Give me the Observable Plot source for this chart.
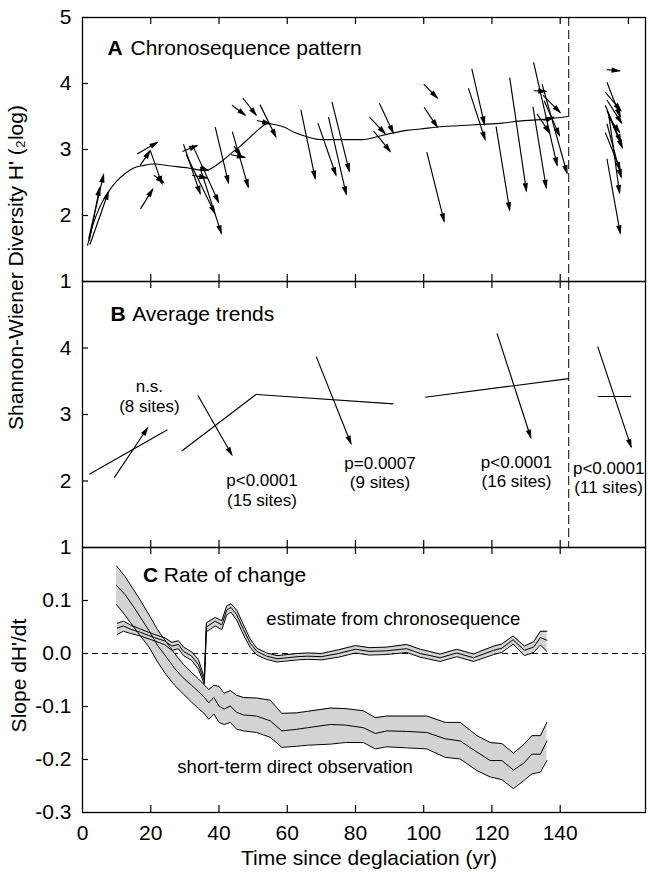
<!DOCTYPE html>
<html><head><meta charset="utf-8">
<script src="https://cdn.jsdelivr.net/npm/d3@7"></script>
<script src="https://cdn.jsdelivr.net/npm/@observablehq/plot@0.6"></script>
<style>
html,body{margin:0;padding:0;background:#fff;}
#chart{width:648px;height:872px;position:relative;overflow:hidden;background:#fff;}
#chart svg{display:block;}
</style></head>
<body><div id="chart"></div>
<script>
// ---------- data ----------
const xTicks = [0, 20, 40, 60, 80, 100, 120, 140];
const xTicksTopA = [20, 40, 60, 80, 100, 120, 140, 160];
const yTicksA = [1, 2, 3, 4, 5];
const yTicksB = [1, 2, 3, 4];
const yTicksC = [-0.3, -0.2, -0.1, 0.0, 0.1];
const unknownAgeLine = [142.5];

// A: chronosequence smooth curve
const curveAge = [1.5, 3, 5, 7.5, 10, 12.6, 15, 18, 21, 26, 31, 36, 38, 41, 44, 46, 49, 52, 54, 57, 59, 62, 66, 70, 76, 82, 86, 90, 95, 99, 104, 110, 117, 123, 128, 136, 142.2];
const curveH = [1.55, 1.85, 2.12, 2.35, 2.52, 2.64, 2.72, 2.76, 2.78, 2.75, 2.72, 2.68, 2.72, 2.83, 2.96, 3.04, 3.18, 3.32, 3.39, 3.37, 3.34, 3.26, 3.19, 3.15, 3.15, 3.15, 3.19, 3.24, 3.29, 3.31, 3.34, 3.36, 3.38, 3.40, 3.43, 3.46, 3.50];

// A: site trajectories [startAge, startH, endAge, endH]
const siteArrows = [
  [1.8, 1.65, 6.2, 2.62], [2.0, 1.62, 5.0, 2.42], [2.2, 1.56, 7.6, 2.36],
  [17.0, 2.10, 20.6, 2.40], [16.0, 2.93, 22.0, 3.11], [16.9, 2.76, 19.8, 2.98],
  [19.9, 2.98, 23.3, 2.48], [20.9, 2.61, 23.8, 2.50],
  [29.3, 2.97, 33.6, 3.06], [29.6, 3.08, 34.5, 2.33], [30.4, 2.92, 38.8, 2.03],
  [32.2, 3.07, 39.9, 2.20], [34.6, 2.70, 40.7, 1.73], [32.1, 2.61, 36.5, 2.57],
  [34.5, 2.73, 36.8, 2.68], [38.9, 3.34, 42.8, 2.49], [43.9, 3.27, 48.6, 2.43],
  [43.5, 2.92, 47.6, 2.88], [44.4, 3.05, 46.5, 2.90], [43.8, 3.67, 47.7, 3.52],
  [47.0, 3.78, 50.9, 3.52], [52.0, 3.68, 56.7, 3.19], [51.1, 3.44, 55.0, 3.39],
  [64.0, 3.60, 68.2, 2.56], [69.0, 3.40, 74.3, 2.61], [72.1, 3.49, 77.3, 2.32],
  [73.1, 3.72, 78.2, 2.67], [84.1, 3.49, 88.7, 3.24], [87.0, 3.70, 91.1, 3.25],
  [85.3, 3.28, 90.2, 2.97],
  [100.0, 3.99, 104.0, 3.78], [100.1, 3.64, 104.0, 3.34], [100.9, 2.96, 106.0, 1.91],
  [114.1, 4.22, 117.8, 3.38], [113.1, 3.93, 118.0, 3.15], [121.2, 3.35, 125.2, 2.08],
  [125.2, 4.09, 130.1, 2.37], [132.0, 3.65, 135.9, 2.42], [132.2, 4.32, 139.1, 2.76],
  [134.7, 3.99, 142.0, 2.64], [132.2, 3.89, 135.9, 3.88], [135.0, 3.82, 140.0, 3.56],
  [133.2, 3.54, 136.9, 3.25], [135.3, 3.74, 139.8, 3.21], [135.1, 3.44, 138.1, 3.49],
  [153.7, 4.21, 157.4, 4.19], [153.7, 4.02, 157.6, 3.50], [153.2, 3.87, 157.8, 3.59],
  [153.2, 3.67, 157.8, 3.11], [153.7, 3.59, 158.2, 3.03], [154.2, 3.49, 157.4, 3.26],
  [153.2, 3.26, 157.6, 2.69], [153.7, 3.39, 157.9, 2.58], [154.2, 3.54, 157.4, 2.34],
  [153.7, 2.86, 157.6, 1.73], [153.7, 3.75, 158.0, 3.40]
];

// B: average trends
const trendLines = [[2.0, 2.10, 24.9, 2.77], [29.1, 2.45, 51.1, 3.31], [51.1, 3.30, 91.1, 3.16], [100.4, 3.26, 142.5, 3.54], [151.0, 3.27, 160.8, 3.27]];
const trendArrows = [[9.3, 2.05, 19.1, 2.80], [33.8, 3.29, 43.8, 2.39], [68.5, 3.87, 78.7, 2.56], [121.5, 4.22, 131.4, 2.65], [151.0, 4.02, 160.8, 2.51]];
const trendLabelText = ["n.s.\n(8 sites)", "p<0.0001\n(15 sites)", "p=0.0007\n(9 sites)", "p<0.0001\n(16 sites)", "p<0.0001\n(11 sites)"];
const trendLabelAge = [19.6, 52.6, 87.2, 127.2, 154.2];
const trendLabelH = [3.55, 2.135, 2.395, 2.41, 2.32];

// C: short-term direct observation (mean and band)
const obsAge = [10, 12.5, 15, 17, 19.5, 22, 24.5, 27, 29.5, 32, 34, 35.5, 37, 38.5, 40, 41.5, 43.3, 45.2, 47.2, 51, 55, 58.4, 62.8, 66, 72.6, 77, 82.3, 85.8, 89.2, 95, 100.9, 106.3, 110.7, 115.6, 119.5, 122.9, 126.3, 129.3, 131.7, 134.2, 136.1];
const obsMid = [0.128, 0.111, 0.088, 0.068, 0.043, 0.015, -0.006, -0.028, -0.046, -0.060, -0.072, -0.081, -0.093, -0.083, -0.099, -0.105, -0.099, -0.111, -0.116, -0.118, -0.127, -0.146, -0.143, -0.140, -0.134, -0.135, -0.140, -0.151, -0.146, -0.147, -0.149, -0.161, -0.165, -0.186, -0.202, -0.202, -0.220, -0.207, -0.190, -0.190, -0.165];
const obsHi = [0.165, 0.145, 0.120, 0.100, 0.073, 0.045, 0.022, 0.000, -0.020, -0.036, -0.048, -0.058, -0.068, -0.060, -0.062, -0.075, -0.070, -0.079, -0.083, -0.084, -0.088, -0.113, -0.112, -0.109, -0.103, -0.104, -0.108, -0.121, -0.118, -0.118, -0.118, -0.130, -0.130, -0.155, -0.168, -0.170, -0.188, -0.172, -0.155, -0.155, -0.130];
const obsLo = [0.092, 0.072, 0.050, 0.033, 0.012, -0.016, -0.040, -0.060, -0.076, -0.092, -0.104, -0.112, -0.124, -0.114, -0.130, -0.134, -0.130, -0.143, -0.146, -0.149, -0.158, -0.177, -0.175, -0.173, -0.171, -0.168, -0.168, -0.180, -0.176, -0.178, -0.180, -0.196, -0.199, -0.221, -0.233, -0.238, -0.255, -0.240, -0.227, -0.224, -0.202];

// C: estimate from chronosequence (mean and band)
const estAge = [10.2, 12, 14, 17, 21, 24, 26.2, 28.1, 29.6, 32, 34, 35.7, 36.3, 38.9, 40.8, 42.3, 43.5, 45.2, 47.2, 49.1, 51.1, 54, 57, 60, 63, 66, 70, 75, 80, 84, 89, 95, 99, 104.8, 109.7, 114.6, 120.5, 122.9, 126.2, 129.5, 132.2, 134.2, 136.1];
const estMid = [0.048, 0.052, 0.046, 0.040, 0.030, 0.024, 0.014, 0.017, 0.004, -0.005, -0.021, -0.052, 0.050, 0.061, 0.054, 0.082, 0.087, 0.073, 0.045, 0.020, 0.004, -0.005, -0.010, -0.008, -0.006, -0.005, -0.006, 0.000, 0.008, 0.004, 0.005, 0.009, 0.000, -0.008, 0.001, -0.008, 0.006, 0.010, 0.026, 0.006, 0.012, 0.030, 0.025];
const estHi = [0.057, 0.061, 0.054, 0.046, 0.036, 0.030, 0.021, 0.024, 0.012, 0.003, -0.012, -0.045, 0.058, 0.068, 0.062, 0.090, 0.094, 0.082, 0.054, 0.028, 0.010, 0.001, -0.004, -0.002, 0.000, 0.001, 0.000, 0.007, 0.015, 0.011, 0.012, 0.017, 0.008, -0.001, 0.008, -0.001, 0.014, 0.018, 0.033, 0.014, 0.022, 0.042, 0.042];
const estLo = [0.036, 0.042, 0.038, 0.033, 0.024, 0.017, 0.006, 0.009, -0.004, -0.013, -0.030, -0.058, 0.041, 0.052, 0.045, 0.073, 0.078, 0.063, 0.035, 0.012, -0.003, -0.011, -0.016, -0.014, -0.012, -0.011, -0.012, -0.007, 0.001, -0.003, -0.002, 0.002, -0.007, -0.015, -0.006, -0.015, -0.002, 0.002, 0.018, -0.004, 0.002, 0.016, 0.004];

const yTitleAB = "Shannon-Wiener Diversity H' (\u2082log)";
const yTitleC = "Slope dH'/dt";
const xTitle = "Time since deglaciation (yr)";

// ---------- layout ----------
const FONT = "'Liberation Sans', Arial, Helvetica, sans-serif";
const W = 648, ML = 82, MR = 3, FW = W - ML - MR;
const XDOMAIN = [0, 165];
const svgStyle = `font-family:${FONT};font-size:21px;overflow:visible;background:transparent;`;
const TICKLEN = 7;

function frameMarks(fh, topTicks, bottomTicks, yTicks) {
  return [
    Plot.tickX(topTicks, {x: d => d, insetBottom: fh - TICKLEN, stroke: "black", strokeWidth: 1.2}),
    Plot.tickX(bottomTicks, {x: d => d, insetTop: fh - TICKLEN, stroke: "black", strokeWidth: 1.2}),
    Plot.tickY(yTicks, {y: d => d, insetRight: FW - 6, stroke: "black", strokeWidth: 1.2}),
    Plot.frame({stroke: "black", strokeWidth: 1.3})
  ];
}
const linkOpts = {x1: d => d[0], y1: d => d[1], x2: d => d[2], y2: d => d[3], stroke: "black", strokeWidth: 1.15};
const arrowOpts = {...linkOpts, markerEnd: "arrow"};
function title(letter, rest, dxL, dxR, dy) {
  return [
    Plot.text([letter], {text: d => d, frameAnchor: "top-left", dx: dxL, dy, textAnchor: "start", lineAnchor: "top", fontWeight: "bold", fontSize: 21}),
    Plot.text([rest], {text: d => d, frameAnchor: "top-left", dx: dxR, dy, textAnchor: "start", lineAnchor: "top", fontSize: 21})
  ];
}
function solidHeads(svg) {
  d3.select(svg).selectAll("marker")
    .attr("viewBox", "-9 -4 11 8").attr("markerUnits", "userSpaceOnUse")
    .attr("markerWidth", 11).attr("markerHeight", 8)
    .attr("fill", "black").attr("stroke", "none").style("overflow", "visible")
    .selectAll("path").attr("d", "M-8,-2.7L1.5,0L-8,2.7Z");
  return svg;
}
const intFormat = d => String(d);

const curveRows = curveAge.map((t, i) => ({t, h: curveH[i]}));
const labelRows = trendLabelText.map((s, i) => ({s, t: trendLabelAge[i], h: trendLabelH[i]}));
const obsRows = obsAge.map((t, i) => ({t, mid: obsMid[i], hi: obsHi[i], lo: obsLo[i]}));
const estRows = estAge.map((t, i) => ({t, mid: estMid[i], hi: estHi[i], lo: estLo[i]}));

// Panel A
const hA = 281, mtA = 17;
const plotA = Plot.plot({
  width: W, height: hA, marginTop: mtA, marginBottom: 0, marginLeft: ML, marginRight: MR,
  style: svgStyle,
  x: {domain: XDOMAIN, axis: null},
  y: {domain: [1, 5], ticks: yTicksA, tickSize: 0, tickPadding: 11, label: null, tickFormat: intFormat},
  marks: [
    ...frameMarks(hA - mtA, xTicksTopA, xTicks.slice(1), yTicksA),
    Plot.ruleX(unknownAgeLine, {stroke: "black", strokeWidth: 1, strokeDasharray: "9,4"}),
    Plot.line(curveRows, {x: "t", y: "h", curve: "monotone-x", stroke: "black", strokeWidth: 1.1}),
    Plot.link(siteArrows, arrowOpts),
    ...title("A", "Chronosequence pattern", 25, 48, 23),
    Plot.text([yTitleAB], {text: d => d, frameAnchor: "bottom-left", dx: -59.5, dy: -14, rotate: -90, textAnchor: "middle", fontSize: 21})
  ]
});

// Panel B
const hB = 266;
const plotB = Plot.plot({
  width: W, height: hB, marginTop: 0, marginBottom: 0, marginLeft: ML, marginRight: MR,
  style: svgStyle,
  x: {domain: XDOMAIN, axis: null},
  y: {domain: [1, 5], ticks: yTicksB, tickSize: 0, tickPadding: 11, label: null, tickFormat: intFormat},
  marks: [
    ...frameMarks(hB, xTicks.slice(1), xTicks.slice(1), yTicksB),
    Plot.ruleX(unknownAgeLine, {stroke: "black", strokeWidth: 1, strokeDasharray: "9,4"}),
    Plot.link(trendLines, linkOpts),
    Plot.link(trendArrows, arrowOpts),
    Plot.text(labelRows, {x: "t", y: "h", text: "s", fontSize: 17, lineHeight: 1.16, lineAnchor: "top", textAnchor: "middle"}),
    ...title("B", "Average trends", 28, 49.7, 25)
  ]
});

// Panel C
const hC = 325, mbC = 60;
const plotC = Plot.plot({
  width: W, height: hC, marginTop: 0, marginBottom: mbC, marginLeft: ML, marginRight: MR,
  style: svgStyle,
  x: {domain: XDOMAIN, ticks: xTicks, tickSize: 0, tickPadding: 13, label: null},
  y: {domain: [-0.3, 0.2], ticks: yTicksC, tickSize: 0, tickPadding: 11, label: null, tickFormat: d => d.toFixed(1)},
  marks: [
    Plot.ruleY([0], {stroke: "black", strokeWidth: 1, strokeDasharray: "6,4"}),
    Plot.areaY(obsRows, {x: "t", y1: "lo", y2: "hi", fill: "#d3d3d3"}),
    Plot.areaY(estRows, {x: "t", y1: "lo", y2: "hi", fill: "#d3d3d3"}),
    Plot.line(obsRows, {x: "t", y: "hi", stroke: "black", strokeWidth: 1}),
    Plot.line(obsRows, {x: "t", y: "mid", stroke: "black", strokeWidth: 1}),
    Plot.line(obsRows, {x: "t", y: "lo", stroke: "black", strokeWidth: 1}),
    Plot.line(estRows, {x: "t", y: "hi", stroke: "black", strokeWidth: 1}),
    Plot.line(estRows, {x: "t", y: "mid", stroke: "black", strokeWidth: 1}),
    Plot.line(estRows, {x: "t", y: "lo", stroke: "black", strokeWidth: 1}),
    Plot.text(["estimate from chronosequence"], {text: d => d, x: () => 91.1, y: () => 0.065, fontSize: 18.5}),
    Plot.text(["short-term direct observation"], {text: d => d, x: () => 62.3, y: () => -0.214, fontSize: 18.5}),
    ...frameMarks(hC - mbC, xTicks.slice(1), xTicks.slice(1), yTicksC),
    ...title("C", "Rate of change", 60.5, 81.3, 19.7),
    Plot.text([yTitleC], {text: d => d, frameAnchor: "left", dx: -63.7, dy: -4.5, rotate: -90, textAnchor: "middle", fontSize: 21}),
    Plot.text([xTitle], {text: d => d, frameAnchor: "bottom", dx: 5, dy: 38, lineAnchor: "top", textAnchor: "middle", fontSize: 21})
  ]
});

const chart = document.getElementById("chart");
chart.append(solidHeads(plotA), solidHeads(plotB), plotC);
</script>
</body></html>
